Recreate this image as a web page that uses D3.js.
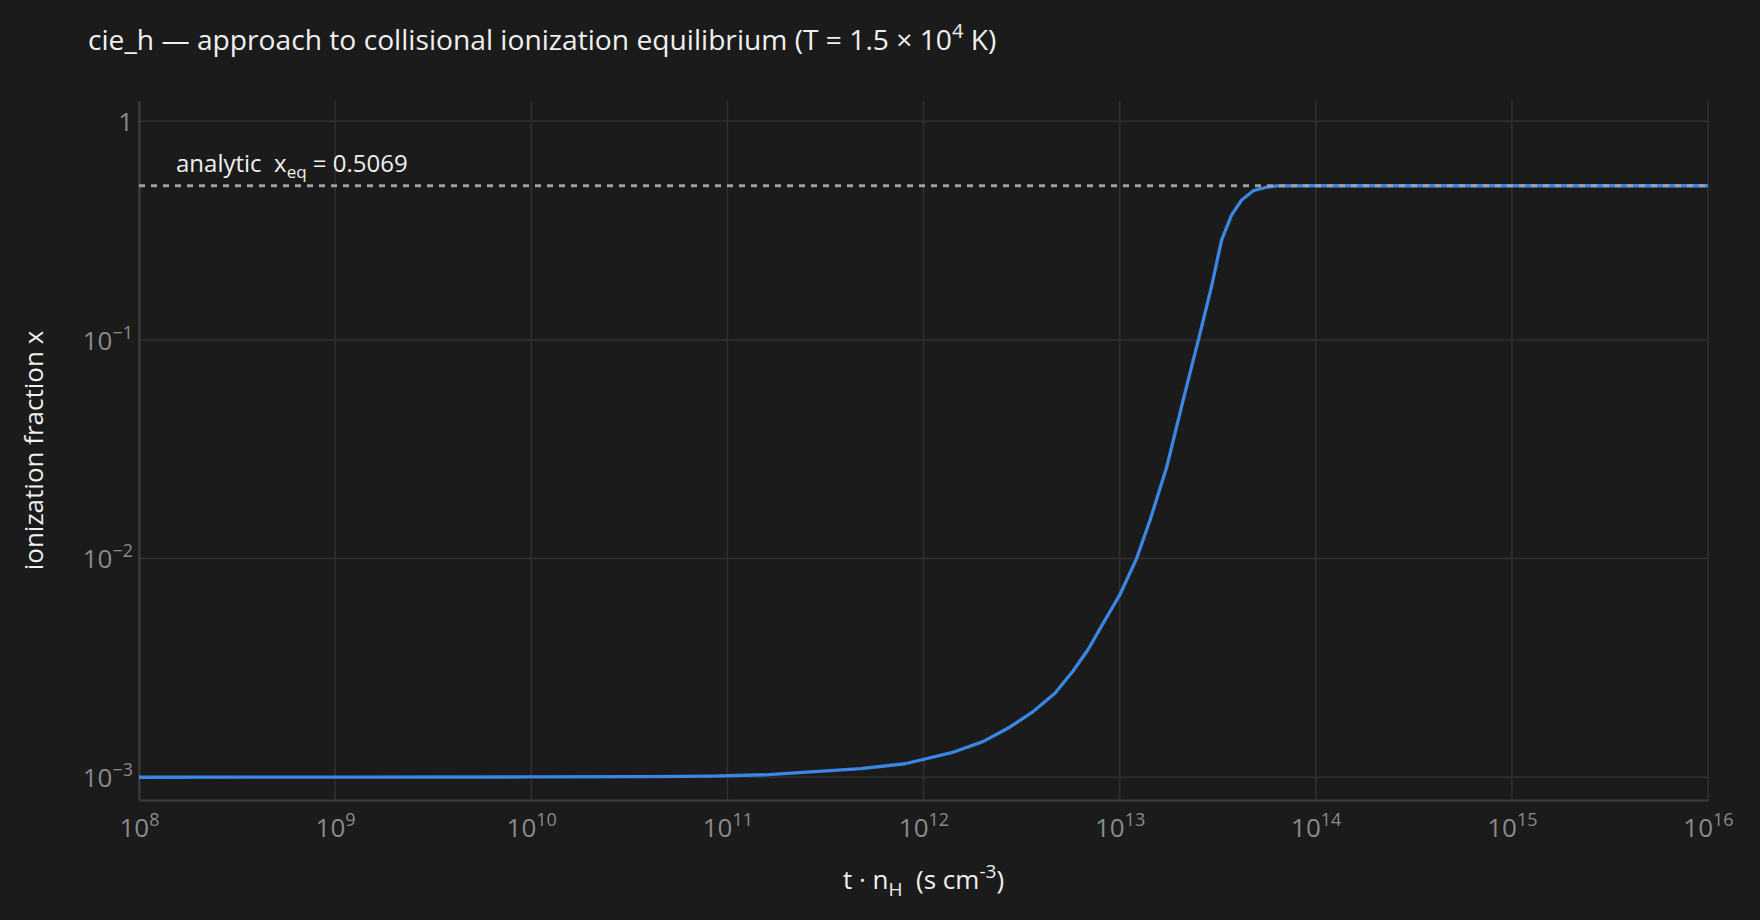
<!DOCTYPE html>
<html>
<head>
<meta charset="utf-8">
<script src="https://cdn.jsdelivr.net/npm/d3@7"></script>
<style>
  body { margin: 0; background: #1b1b1b; }
  svg text { font-family: "Open Sans", "Noto Sans", sans-serif; white-space: pre; }
</style>
</head>
<body>
<div id="chart"></div>
<script>
// t * n_H (s cm^-3) and ionization fraction x
const tValues = [1e8, 1e9, 1e10, 3.98e10, 8.32e10, 1.62e11, 4.79e11, 8.04e11, 1.39e12, 2.01e12,
  2.75e12, 3.56e12, 4.68e12, 5.79e12, 6.92e12, 8.24e12, 1.0e13, 1.22e13, 1.43e13, 1.74e13,
  2.11e13, 2.57e13, 2.94e13, 3.31e13, 3.72e13, 4.19e13, 4.81e13, 5.62e13,
  6.32e13, 1e14, 1e15, 1e16];
const xValues = [1.000e-3, 1.001e-3, 1.003e-3, 1.007e-3, 1.013e-3, 1.028e-3, 1.094e-3, 1.153e-3, 1.295e-3, 1.455e-3,
  1.694e-3, 1.974e-3, 2.42e-3, 3.06e-3, 3.85e-3, 5.06e-3, 6.8e-3, 1.0e-2, 1.5e-2, 2.63e-2,
  5.32e-2, 0.107, 0.175, 0.286, 0.372, 0.436, 0.481, 0.499,
  0.5065, 0.5069, 0.5069, 0.5069];
const xEq = 0.5069;
const xTickExps = [8, 9, 10, 11, 12, 13, 14, 15, 16];
const yTickExps = [0, -1, -2, -3];

const width = 1760, height = 920;
const margin = { left: 139, right: 52, top: 101, bottom: 120 };

const svg = d3.select('#chart')
  .append('svg')
    .attr('width', width)
    .attr('height', height);

svg.append('rect')
  .attr('width', width)
  .attr('height', height)
  .attr('fill', '#1b1b1b');

// scales
let x_scale = d3.scaleLog()
  .domain([1e8, 1e16])
  .range([margin.left, width - margin.right]);
let y_scale = d3.scaleLog()
  .domain([Math.pow(10, -3.104), Math.pow(10, 0.0924)])
  .range([height - margin.bottom, margin.top]);

// grid
svg.append('g')
  .selectAll('line')
  .data(xTickExps)
  .enter()
  .append('line')
    .attr('x1', d => x_scale(Math.pow(10, d)))
    .attr('x2', d => x_scale(Math.pow(10, d)))
    .attr('y1', margin.top)
    .attr('y2', height - margin.bottom)
    .attr('stroke', '#303030')
    .attr('stroke-width', 1.5);
svg.append('g')
  .selectAll('line')
  .data(yTickExps)
  .enter()
  .append('line')
    .attr('x1', margin.left)
    .attr('x2', width - margin.right)
    .attr('y1', d => y_scale(Math.pow(10, d)))
    .attr('y2', d => y_scale(Math.pow(10, d)))
    .attr('stroke', '#303030')
    .attr('stroke-width', 1.5);

// axes
let x_axis = svg.append('g')
  .attr('transform', 'translate(0,' + (height - margin.bottom) + ')')
  .call(d3.axisBottom(x_scale)
    .tickValues(xTickExps.map(e => Math.pow(10, e)))
    .tickSize(0)
    .tickPadding(11)
    .tickFormat(''));
let y_axis = svg.append('g')
  .attr('transform', 'translate(' + margin.left + ',0)')
  .call(d3.axisLeft(y_scale)
    .tickValues(yTickExps.map(e => Math.pow(10, e)))
    .tickSize(0)
    .tickPadding(6)
    .tickFormat(''));
[x_axis, y_axis].forEach(a => {
  a.select('.domain').attr('stroke', '#3c3c3c').attr('stroke-width', 2);
});

// tick labels with superscripts
x_axis.selectAll('.tick text')
  .attr('fill', '#8a8a8a')
  .attr('font-size', 26)
  .attr('dy', '1.0em')
  .each(function(d) {
    const t = d3.select(this);
    const e = Math.round(Math.log10(d));
    t.append('tspan').text('10');
    t.append('tspan').attr('dy', -11).attr('font-size', 18).text(e);
  });
y_axis.selectAll('.tick text')
  .attr('fill', '#8a8a8a')
  .attr('font-size', 26)
  .attr('dy', '0.36em')
  .each(function(d) {
    const t = d3.select(this);
    const e = Math.round(Math.log10(d));
    if (e === 0) {
      t.append('tspan').text('1');
    } else {
      t.append('tspan').text('10');
      t.append('tspan').attr('dy', -11).attr('font-size', 18).text('\u2212' + Math.abs(e));
    }
  });

// curve
const points = tValues.map((t, i) => ({ t: t, x: xValues[i] }));
svg.append('path')
  .datum(points)
  .attr('fill', 'none')
  .attr('stroke', '#3a86e3')
  .attr('stroke-width', 3.3)
  .attr('stroke-linejoin', 'round')
  .attr('d', d3.line()
    .x(d => x_scale(d.t))
    .y(d => y_scale(d.x)));

// analytic equilibrium line
svg.append('line')
  .attr('x1', margin.left)
  .attr('x2', width - margin.right)
  .attr('y1', y_scale(xEq))
  .attr('y2', y_scale(xEq))
  .attr('stroke', '#a0a0a0')
  .attr('stroke-width', 3)
  .attr('stroke-dasharray', '6,6');

let eqLabel = svg.append('text')
  .attr('x', 176)
  .attr('y', y_scale(xEq) - 14)
  .attr('fill', '#f0f0f0')
  .attr('font-size', 24);
eqLabel.append('tspan').text('analytic  x');
eqLabel.append('tspan').attr('dy', 6).attr('font-size', 17).text('eq');
eqLabel.append('tspan').attr('dy', -6).text(' = ' + xEq.toFixed(4));

// title
let title = svg.append('text')
  .attr('x', 88)
  .attr('y', 50)
  .attr('fill', '#f0f0f0')
  .attr('font-size', 28.2);
title.append('tspan').text('cie_h \u2014 approach to collisional ionization equilibrium (T = 1.5 \u00d7 10');
title.append('tspan').attr('dy', -12).attr('font-size', 20).text('4');
title.append('tspan').attr('dy', 12).text(' K)');

// axis titles
let xTitle = svg.append('text')
  .attr('x', (margin.left + width - margin.right) / 2)
  .attr('y', 889)
  .attr('text-anchor', 'middle')
  .attr('fill', '#f0f0f0')
  .attr('font-size', 26);
xTitle.append('tspan').text('t \u00b7 n');
xTitle.append('tspan').attr('dy', 7).attr('font-size', 19).text('H');
xTitle.append('tspan').attr('dy', -7).text('  (s cm');
xTitle.append('tspan').attr('dy', -11).attr('font-size', 19).text('-3');
xTitle.append('tspan').attr('dy', 11).text(')');

svg.append('text')
  .attr('transform', 'translate(43,' + ((margin.top + height - margin.bottom) / 2) + ') rotate(-90)')
  .attr('text-anchor', 'middle')
  .attr('fill', '#f0f0f0')
  .attr('font-size', 26)
  .text('ionization fraction x');
</script>
</body>
</html>
